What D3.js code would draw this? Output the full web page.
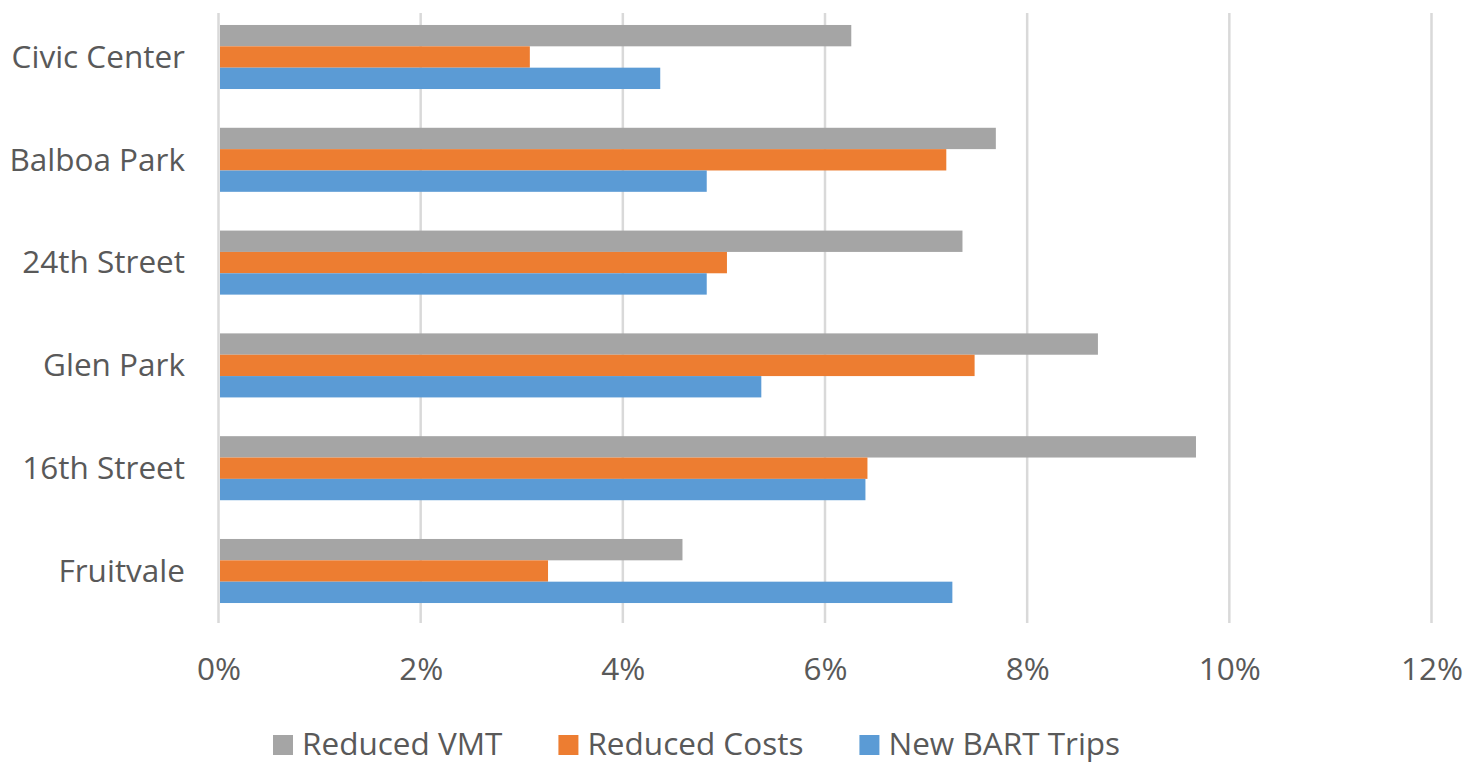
<!DOCTYPE html>
<html>
<head>
<meta charset="utf-8">
<script src="https://cdn.jsdelivr.net/npm/d3@7"></script>
<style>
  html, body { margin: 0; padding: 0; background: #fff; }
  svg { display: block; }
  text { font-family: "Open Sans", "Noto Sans", sans-serif; fill: #595959; }
</style>
</head>
<body>
<svg id="chart" width="1477" height="764"></svg>
<script>
// Station categories, top to bottom
const stations = ["Civic Center", "Balboa Park", "24th Street", "Glen Park", "16th Street", "Fruitvale"];

// Series (share, per station)
const seriesNames = ["Reduced VMT", "Reduced Costs", "New BART Trips"];
const reducedVMT   = [0.0626, 0.0769, 0.0736, 0.0870, 0.0967, 0.0459];
const reducedCosts = [0.0308, 0.0720, 0.0503, 0.0748, 0.0642, 0.0326];
const newBARTTrips = [0.0437, 0.0483, 0.0483, 0.0537, 0.0640, 0.0726];
const seriesColors = ["#a5a5a5", "#ed7d31", "#5b9bd5"];

// Axis ticks
const tickValues = [0, 0.02, 0.04, 0.06, 0.08, 0.10, 0.12];

const seriesValues = [reducedVMT, reducedCosts, newBARTTrips];
const rows = stations.map((s, i) => ({
  station: s,
  values: seriesNames.map((n, k) => ({ name: n, value: seriesValues[k][i], color: seriesColors[k] }))
}));

const svg = d3.select("#chart");
const fontSize = "31.5px";

const x = d3.scaleLinear().domain([0, 0.12]).range([218.5, 1431.5]);
const y = d3.scaleBand().domain(stations).range([5.6, 622.4]).paddingInner(0.377).paddingOuter(0.1885);
const ySub = d3.scaleBand().domain(seriesNames).range([0, y.bandwidth()]);

// Vertical gridlines
svg.append("g")
  .selectAll("line")
  .data(tickValues)
  .join("line")
  .attr("x1", d => x(d)).attr("x2", d => x(d))
  .attr("y1", 13).attr("y2", 623)
  .attr("stroke", "#d9d9d9")
  .attr("stroke-width", 2.5);

// Bars
const groups = svg.append("g")
  .selectAll("g")
  .data(rows)
  .join("g")
  .attr("transform", d => `translate(0,${y(d.station)})`);

groups.selectAll("rect")
  .data(d => d.values)
  .join("rect")
  .attr("x", x(0) + 1.5)
  .attr("y", d => ySub(d.name))
  .attr("width", d => x(d.value) - x(0) - 1.5)
  .attr("height", ySub.bandwidth())
  .attr("fill", d => d.color);

// Category labels
const yAxis = d3.axisLeft(y).tickSize(0).tickPadding(0);
svg.append("g")
  .attr("transform", "translate(185,0)")
  .call(yAxis)
  .call(g => g.select(".domain").remove())
  .call(g => g.selectAll("text")
    .attr("font-family", null)
    .attr("font-size", null)
    .style("font-size", fontSize)
    .attr("fill", null)
    .attr("dy", "0.34em"));

// Percentage axis
const xAxis = d3.axisBottom(x).tickValues(tickValues).tickFormat(d3.format(".0%")).tickSize(0).tickPadding(0);
svg.append("g")
  .attr("transform", "translate(0,680)")
  .call(xAxis)
  .call(g => g.select(".domain").remove())
  .call(g => g.selectAll("text")
    .attr("font-family", null)
    .attr("font-size", null)
    .style("font-size", fontSize)
    .attr("fill", null)
    .attr("dy", "0"));

// Legend
const legend = svg.append("g").attr("transform", "translate(0,755)");
let cx = 273;
seriesNames.forEach((name, k) => {
  const item = legend.append("g").attr("transform", `translate(${cx},0)`);
  item.append("rect")
    .attr("x", 0).attr("y", -20)
    .attr("width", 20).attr("height", 20)
    .attr("fill", seriesColors[k]);
  const t = item.append("text")
    .attr("x", 29).attr("y", 0)
    .style("font-size", fontSize)
    .text(name);
  cx += 29 + t.node().getComputedTextLength() + 56;
});
</script>
</body>
</html>
